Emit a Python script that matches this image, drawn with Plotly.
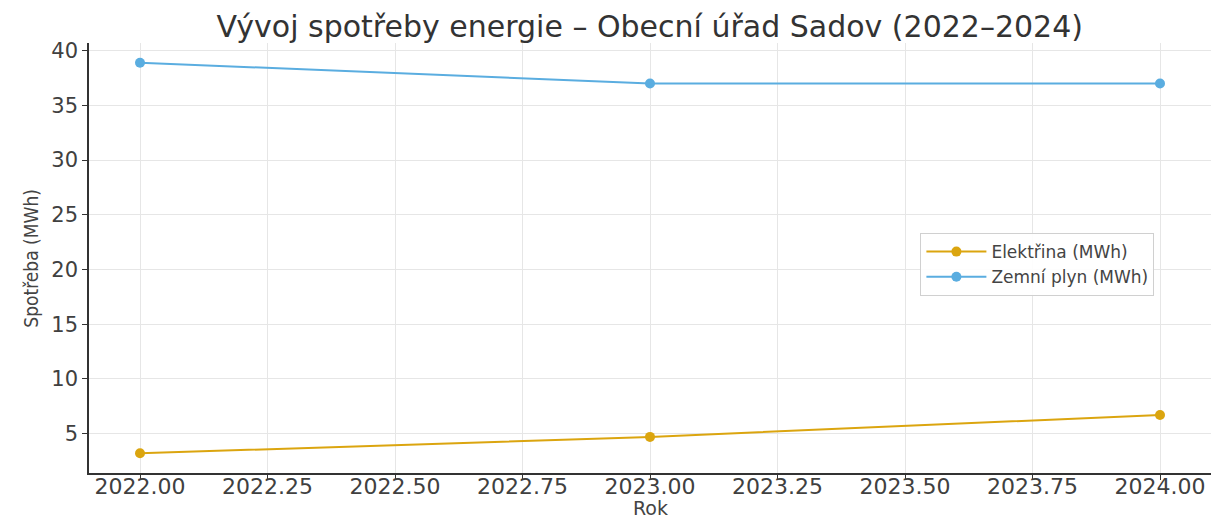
import plotly.graph_objects as go

years = [2022, 2023, 2024]
elektrina = [3.2, 4.7, 6.7]
plyn = [38.9, 37.0, 37.0]
series_names = ["Elektřina (MWh)", "Zemní plyn (MWh)"]
colors = ["#DBA50F", "#5AADE0"]

fig = go.Figure()
fig.add_trace(go.Scatter(x=years, y=elektrina, mode="lines+markers", name=series_names[0],
                         line=dict(color=colors[0], width=2), marker=dict(size=10, color=colors[0])))
fig.add_trace(go.Scatter(x=years, y=plyn, mode="lines+markers", name=series_names[1],
                         line=dict(color=colors[1], width=2), marker=dict(size=10, color=colors[1])))

font_family = "DejaVu Sans, Verdana, sans-serif"
fig.update_layout(
    width=1213, height=515,
    margin=dict(l=89, r=2, t=43, b=42, autoexpand=False),
    paper_bgcolor="white", plot_bgcolor="white",
    title=dict(text="Vývoj spotřeby energie – Obecní úřad Sadov (2022–2024)",
               x=0.5357, xanchor="center", y=0.948, yanchor="middle",
               font=dict(family=font_family, size=30, color="#333333")),
    font=dict(family=font_family, color="#444444"),
    legend=dict(x=0.741, y=0.558, xanchor="left", yanchor="top",
                bgcolor="rgba(255,255,255,0.9)", bordercolor="#d0d0d0", borderwidth=1,
                font=dict(size=17, color="#444444"), tracegroupgap=0, itemwidth=60),
    showlegend=True,
    annotations=[
        dict(text="Rok", xref="paper", yref="paper", x=0.5, y=-0.05, xanchor="center", yanchor="top",
             showarrow=False, font=dict(family=font_family, size=19, color="#444444")),
        dict(text="Spotřeba (MWh)", xref="paper", yref="paper", x=-0.0404, y=0.5, xanchor="right", yanchor="middle",
             textangle=-90, showarrow=False,
             font=dict(family="DejaVu Sans Condensed, DejaVu Sans, sans-serif", size=19, color="#444444")),
    ],
)
fig.update_xaxes(
    range=[2021.9, 2024.1], dtick=0.25, tick0=2022, tickformat=".2f",
    showgrid=True, gridcolor="#e6e6e6", gridwidth=1,
    showline=True, linecolor="#333333", linewidth=1.5, mirror=False,
    ticks="outside", ticklen=5, tickcolor="#333333",
    tickfont=dict(family=font_family, size=22, color="#404040"),
    ticklabelstandoff=-12,
    automargin=False, zeroline=False,
)
fig.update_yaxes(
    range=[1.4, 40.7], dtick=5, tick0=0,
    showgrid=True, gridcolor="#e6e6e6", gridwidth=1,
    showline=True, linecolor="#333333", linewidth=1.5, mirror=False,
    ticks="outside", ticklen=5, tickcolor="#333333",
    tickfont=dict(family=font_family, size=21, color="#404040"),
    automargin=False, zeroline=False,
)

fig.write_html("out.html", config={"displayModeBar": False},
               post_script="document.body.style.margin='0';document.body.style.overflow='hidden';")
